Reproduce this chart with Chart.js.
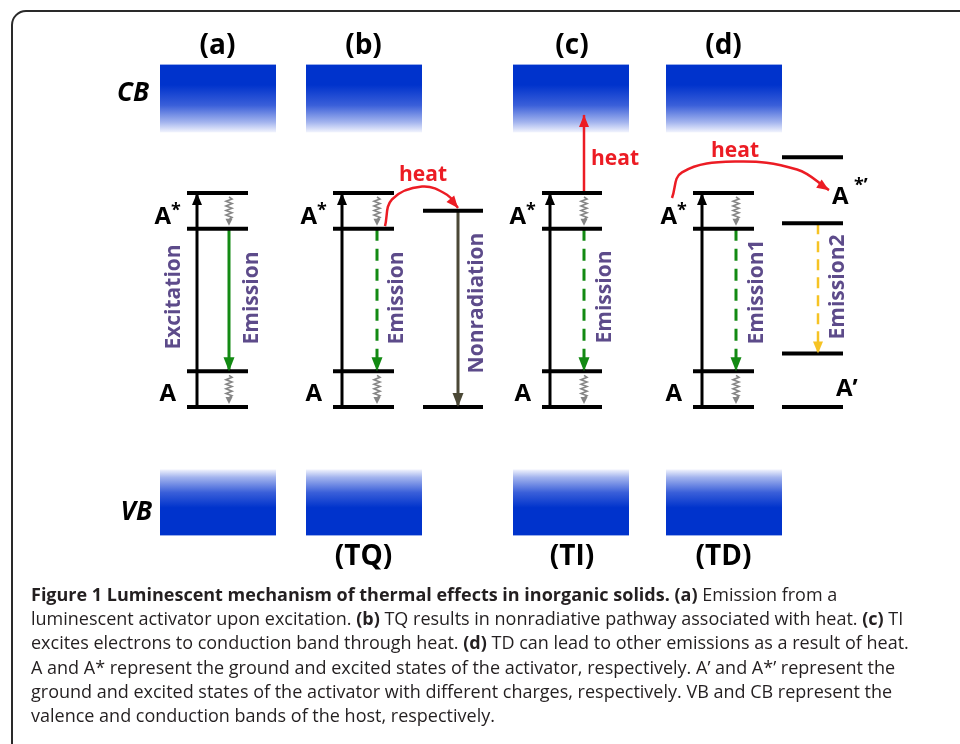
<!DOCTYPE html>
<html>
<head>
<meta charset="utf-8">
<script src="https://cdn.jsdelivr.net/npm/chart.js@4.4.1/dist/chart.umd.min.js"></script>
<style>
  html, body { margin: 0; padding: 0; background: #fff; }
  #wrap { width: 960px; height: 744px; }
</style>
</head>
<body>
<div id="wrap"><canvas id="diagram" width="960" height="744"></canvas></div>
<script>
// Thermal effects diagram - energy levels drawn on a hidden linear x / energy y plane

// panels and their tags
const panelTags = ['(a)', '(b)', '(c)', '(d)'];
const mechanismTags = ['', '(TQ)', '(TI)', '(TD)'];

// activator levels per panel (x = column position, y = energy units)
const levelLeft = [187, 333, 542, 693];
const levelRight = [248, 394, 602, 754];
const exciteX = [197, 342, 550, 702];
const emitX = [229, 377, 584, 736];
const activatorLevels = [0, 1, 5, 6]; // A low, A high, A* low, A* high

// host bands
const bandLeft = [160, 306, 513, 666];
const bandRight = [276, 422, 629, 782];
const cbEdges = [7.7, 9.6];
const vbEdges = [-3.6, -1.75];

// (b) nonradiative level
const nonradX = [423, 483];
const nonradLevels = [0, 5.5];
const nonradArrowX = 458;

// (d) levels of the activator with other charge
const primeX = [782, 843];
const primeLevels = [0, 1.5, 5.15, 7];
const emission2X = 818;

// heat paths
const heatB = [[385, 5.07], [392, 5.82], [422, 6.18], [447, 5.95], [458, 5.58]];
const heatC = [[584, 6], [584, 8.19]];
const heatD = [[672, 5.86], [682, 6.58], [735, 6.88], [797, 6.66], [829, 6.08]];

const BLACK = '#000';
const GREEN = '#138a13';
const RED = '#ec1c24';
const GOLD = '#f6c324';
const OLIVE = '#4b4836';
const PURPLE = '#5d4b8a';
const BLUE = '#0033cc';
const FIG_FONT = '"Open Sans", "Noto Sans", sans-serif';
const CAP_FONT = '"Open Sans", "Noto Sans", sans-serif';

const datasets = [];
function addLine(points, style) {
  datasets.push(Object.assign({
    data: points.map(p => ({ x: p[0], y: p[1] })),
    showLine: true,
    pointRadius: 0,
    fill: false,
    tension: 0,
    borderCapStyle: 'butt',
    clip: false
  }, style));
}

// level bars
panelTags.forEach((tag, i) => {
  activatorLevels.forEach(lv => {
    addLine([[levelLeft[i], lv], [levelRight[i], lv]], { borderColor: BLACK, borderWidth: 4 });
  });
});
nonradLevels.forEach(lv => addLine([[nonradX[0], lv], [nonradX[1], lv]], { borderColor: BLACK, borderWidth: 4 }));
primeLevels.forEach(lv => addLine([[primeX[0], lv], [primeX[1], lv]], { borderColor: BLACK, borderWidth: 4 }));

// excitation + emission arrows
panelTags.forEach((tag, i) => {
  addLine([[exciteX[i], activatorLevels[0]], [exciteX[i], activatorLevels[3]]],
    { borderColor: BLACK, borderWidth: 3, head: [12, 5] });
  addLine([[emitX[i], activatorLevels[2]], [emitX[i], activatorLevels[1]]],
    { borderColor: GREEN, borderWidth: 3, borderDash: i === 0 ? [] : [12, 8], head: [14, 5.5] });
});
addLine([[nonradArrowX, nonradLevels[1]], [nonradArrowX, nonradLevels[0]]],
  { borderColor: OLIVE, borderWidth: 3, head: [14, 5.5] });
addLine([[emission2X, primeLevels[2]], [emission2X, primeLevels[1]]],
  { borderColor: GOLD, borderWidth: 2.5, borderDash: [11, 7], head: [12, 5] });

// heat arrows
addLine(heatB, { borderColor: RED, borderWidth: 2.5, tension: 0.4, head: [12, 5] });
addLine(heatC, { borderColor: RED, borderWidth: 2.5, head: [12, 5] });
addLine(heatD, { borderColor: RED, borderWidth: 2.5, tension: 0.4, head: [12, 5] });

function arrowHead(ctx, tipX, tipY, angle, len, half, color) {
  ctx.save();
  ctx.fillStyle = color;
  ctx.translate(tipX, tipY);
  ctx.rotate(angle);
  ctx.beginPath();
  ctx.moveTo(0, 0);
  ctx.lineTo(-len, -half);
  ctx.lineTo(-len, half);
  ctx.closePath();
  ctx.fill();
  ctx.restore();
}

const arrowHeads = {
  id: 'arrowHeads',
  afterDatasetsDraw(chart) {
    const ctx = chart.ctx;
    chart.data.datasets.forEach((ds, i) => {
      if (!ds.head) return;
      const pts = chart.getDatasetMeta(i).data;
      const end = pts[pts.length - 1];
      let fx = pts[pts.length - 2].x, fy = pts[pts.length - 2].y;
      if (ds.tension && end.cp1x !== undefined) { fx = end.cp1x; fy = end.cp1y; }
      arrowHead(ctx, end.x, end.y, Math.atan2(end.y - fy, end.x - fx), ds.head[0], ds.head[1], ds.borderColor);
    });
  }
};

// gradient bands + wavy relaxation lines
const decor = {
  id: 'decor',
  beforeDatasetsDraw(chart) {
    const { ctx, scales: { x, y } } = chart;
    bandLeft.forEach((l, i) => {
      const x0 = x.getPixelForValue(l), x1 = x.getPixelForValue(bandRight[i]);
      // conduction band: solid at the top
      let t = y.getPixelForValue(cbEdges[1]), b = y.getPixelForValue(cbEdges[0]);
      let g = ctx.createLinearGradient(0, t, 0, b);
      g.addColorStop(0, BLUE); g.addColorStop(0.3, BLUE);
      g.addColorStop(0.6, '#3a5fd9'); g.addColorStop(0.85, '#a3b4ee'); g.addColorStop(1, '#f2f4fd');
      ctx.fillStyle = g; ctx.fillRect(x0, t, x1 - x0, b - t);
      // valence band: solid at the bottom
      t = y.getPixelForValue(vbEdges[1]); b = y.getPixelForValue(vbEdges[0]);
      g = ctx.createLinearGradient(0, b, 0, t);
      g.addColorStop(0, BLUE); g.addColorStop(0.42, BLUE);
      g.addColorStop(0.65, '#3a5fd9'); g.addColorStop(0.88, '#a3b4ee'); g.addColorStop(1, '#f2f4fd');
      ctx.fillStyle = g; ctx.fillRect(x0, t, x1 - x0, b - t);
    });
    // wavy lines
    emitX.forEach(ex => {
      [[activatorLevels[3], activatorLevels[2]], [activatorLevels[1], activatorLevels[0]]].forEach(([hi, lo]) => {
        const px = x.getPixelForValue(ex);
        const y0 = y.getPixelForValue(hi) + 4, y1 = y.getPixelForValue(lo) - 3;
        ctx.save();
        ctx.strokeStyle = '#858585'; ctx.lineWidth = 1.6;
        ctx.beginPath();
        ctx.moveTo(px, y0);
        let k = 0;
        for (let yy = y0 + 2; yy < y1 - 6; yy += 2.3) {
          ctx.lineTo(px + (k % 2 ? -3 : 3), yy);
          k++;
        }
        ctx.lineTo(px, y1 - 6);
        ctx.stroke();
        ctx.restore();
        arrowHead(ctx, px, y1, Math.PI / 2, 7, 3.5, '#858585');
      });
    });
  }
};

function txt(ctx, s, x, y, font, color, align, base) {
  ctx.font = font; ctx.fillStyle = color;
  ctx.textAlign = align || 'center'; ctx.textBaseline = base || 'alphabetic';
  ctx.fillText(s, x, y);
}
function vtxt(ctx, s, x, y, font, color) {
  ctx.save();
  ctx.translate(x, y); ctx.rotate(-Math.PI / 2);
  txt(ctx, s, 0, 0, font, color, 'center', 'middle');
  ctx.restore();
}

const captionLines = [
  [['b', 'Figure 1 Luminescent mechanism of thermal effects in inorganic solids. '], ['b', '(a)'], ['r', ' Emission from a']],
  [['r', 'luminescent activator upon excitation. '], ['b', '(b)'], ['r', ' TQ results in nonradiative pathway associated with heat. '], ['b', '(c)'], ['r', ' TI']],
  [['r', 'excites electrons to conduction band through heat. '], ['b', '(d)'], ['r', ' TD can lead to other emissions as a result of heat.']],
  [['r', 'A and A* represent the ground and excited states of the activator, respectively. A’ and A*’ represent the']],
  [['r', 'ground and excited states of the activator with different charges, respectively. VB and CB represent the']],
  [['r', 'valence and conduction bands of the host, respectively.']]
];

const labels = {
  id: 'labels',
  afterDraw(chart) {
    const { ctx, scales: { x, y } } = chart;
    ctx.save();
    // frame
    ctx.strokeStyle = '#2a2a2a'; ctx.lineWidth = 2;
    ctx.beginPath();
    ctx.moveTo(12, 760); ctx.lineTo(12, 25); ctx.arcTo(12, 11, 26, 11, 14); ctx.lineTo(970, 11);
    ctx.stroke();

    const big = 'bold 28px ' + FIG_FONT;
    const aFont = 'bold 24px ' + FIG_FONT;
    const supFont = 'bold 18px ' + FIG_FONT;
    panelTags.forEach((tag, i) => {
      const cx = (x.getPixelForValue(levelLeft[i]) + x.getPixelForValue(levelRight[i])) / 2;
      txt(ctx, tag, cx, 46, big, BLACK, 'center', 'middle');
      if (mechanismTags[i]) txt(ctx, mechanismTags[i], cx, 557, big, BLACK, 'center', 'middle');
      const lx = x.getPixelForValue(levelLeft[i]);
      const upMid = y.getPixelForValue((activatorLevels[2] + activatorLevels[3]) / 2);
      const lowMid = y.getPixelForValue((activatorLevels[0] + activatorLevels[1]) / 2);
      txt(ctx, 'A', lx - 16, upMid + 13, aFont, BLACK, 'right');
      txt(ctx, '*', lx - 16, upMid + 5, supFont, BLACK, 'left');
      txt(ctx, 'A', lx - 11, lowMid + 11.5, aFont, BLACK, 'right');
    });
    txt(ctx, 'CB', 149, 94, 'italic bold 26px ' + FIG_FONT, BLACK, 'right', 'middle');
    txt(ctx, 'VB', 152, 513, 'italic bold 26px ' + FIG_FONT, BLACK, 'right', 'middle');

    // (d) other-charge labels
    const px = x.getPixelForValue(primeX[0]);
    const upP = y.getPixelForValue((primeLevels[2] + primeLevels[3]) / 2);
    const lowP = y.getPixelForValue((primeLevels[0] + primeLevels[1]) / 2);
    txt(ctx, 'A', px + 50, upP + 13.5, aFont, BLACK, 'left');
    txt(ctx, '*’', px + 72, upP + 1, supFont, BLACK, 'left');
    txt(ctx, 'A’', px + 54, lowP + 15.5, aFont, BLACK, 'left');

    // heat labels
    const heatFont = 'bold 21px ' + FIG_FONT;
    txt(ctx, 'heat', 423, 175, heatFont, RED, 'center', 'middle');
    txt(ctx, 'heat', 615, 159, heatFont, RED, 'center', 'middle');
    txt(ctx, 'heat', 735, 151, heatFont, RED, 'center', 'middle');

    // vertical labels
    const vf = 'bold 21px ' + FIG_FONT;
    vtxt(ctx, 'Excitation', 174, 297, vf, PURPLE);
    vtxt(ctx, 'Emission', 252, 298, vf, PURPLE);
    vtxt(ctx, 'Emission', 397, 298, vf, PURPLE);
    vtxt(ctx, 'Nonradiation', 477, 303, vf, PURPLE);
    vtxt(ctx, 'Emission', 605, 297, vf, PURPLE);
    vtxt(ctx, 'Emission1', 757, 292, vf, PURPLE);
    vtxt(ctx, 'Emission2', 838, 287, vf, PURPLE);

    // caption
    captionLines.forEach((runs, li) => {
      let cx = 31;
      const base = 601 + li * 24.2;
      runs.forEach(([w, s]) => {
        ctx.font = (w === 'b' ? 'bold ' : '') + '18px ' + CAP_FONT;
        ctx.fillStyle = '#231f20';
        ctx.textAlign = 'left'; ctx.textBaseline = 'alphabetic';
        ctx.fillText(s, cx, base);
        cx += ctx.measureText(s).width;
      });
    });
    ctx.restore();
  }
};

new Chart(document.getElementById('diagram'), {
  type: 'scatter',
  data: { datasets },
  options: {
    responsive: false,
    animation: false,
    layout: { padding: { top: 50.33, bottom: 194.33, left: 0, right: 0 } },
    plugins: { legend: { display: false }, tooltip: { enabled: false } },
    scales: {
      x: { type: 'linear', min: 0, max: 960, display: false },
      y: { type: 'linear', min: -4, max: 10, display: false }
    }
  },
  plugins: [decor, arrowHeads, labels]
});
</script>
</body>
</html>
